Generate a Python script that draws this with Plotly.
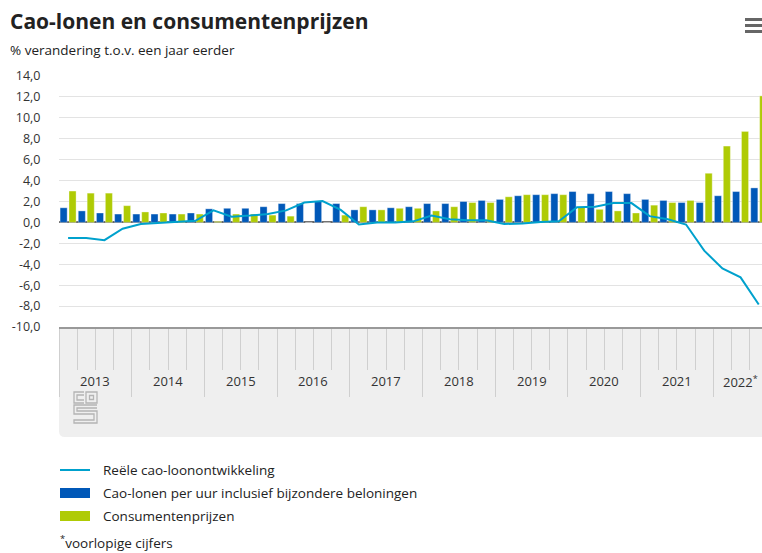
import re
import plotly.graph_objects as go

# ---- data (2013 Q1 .. 2022 Q3) ----
quarters = list(range(39))
cao_lonen = [1.4, 1.1, 0.9, 0.8, 0.8, 0.8, 0.8, 0.9,
             1.3, 1.35, 1.35, 1.5, 1.8, 1.8, 2.0, 1.8,
             1.2, 1.2, 1.4, 1.5, 1.8, 1.8, 2.0, 2.1,
             2.2, 2.55, 2.65, 2.75, 2.95, 2.75, 2.95, 2.75,
             2.2, 2.1, 1.9, 1.9, 2.55, 2.95, 3.3]
consumentenprijzen = [3.0, 2.8, 2.8, 1.6, 1.0, 0.9, 0.8, 0.8,
                      0.1, 0.8, 0.8, 0.7, 0.6, 0.0, 0.0, 0.7,
                      1.5, 1.2, 1.35, 1.35, 1.1, 1.5, 1.9, 1.9,
                      2.45, 2.65, 2.65, 2.65, 1.45, 1.25, 1.1, 0.9,
                      1.65, 1.9, 2.1, 4.7, 7.3, 8.7, 12.1]
reele_cao = [-1.5, -1.5, -1.7, -0.6, -0.15, -0.05, 0.0, 0.15,
             1.15, 0.55, 0.65, 0.8, 1.15, 1.9, 2.05, 1.2,
             -0.2, 0.0, 0.0, 0.1, 0.65, 0.3, 0.2, 0.2,
             -0.15, -0.1, 0.05, 0.1, 1.45, 1.5, 1.85, 1.85,
             0.6, 0.3, -0.2, -2.7, -4.4, -5.25, -7.85]
years = ["2013", "2014", "2015", "2016", "2017", "2018", "2019", "2020", "2021", "2022<sup>*</sup>"]
y_tick_values = [-10, -8, -6, -4, -2, 0, 2, 4, 6, 8, 10, 12, 14]
y_tick_labels = ["-10,0", "-8,0", "-6,0", "-4,0", "-2,0", "0,0", "2,0", "4,0",
                 "6,0", "8,0", "10,0", "12,0", "14,0"]
legend_names = ["Reële cao-loonontwikkeling",
                "Cao-lonen per uur inclusief bijzondere beloningen",
                "Consumentenprijzen"]

C_LINE = "#00a1cd"
C_BLUE = "#0058b8"
C_GREEN = "#afcb05"
FONT = "Open Sans"
TXT = "#222222"

W, H = 762, 553
L, T, R, B = 59, 76, 0, 226
PW, PH = W - L - R, H - T - B


def px(x):
    return (x - L) / PW


def py(y):
    return (H - B - y) / PH


fig = go.Figure()
fig.add_trace(go.Bar(x=quarters, y=cao_lonen, name=legend_names[1],
                     marker=dict(color=C_BLUE, line=dict(color="rgba(255,255,255,0.35)", width=1)),
                     offset=-0.44, width=0.39, showlegend=False, hoverinfo="skip"))
fig.add_trace(go.Bar(x=quarters, y=consumentenprijzen, name=legend_names[2],
                     marker=dict(color=C_GREEN, line=dict(color="rgba(255,255,255,0.35)", width=1)),
                     offset=0.05, width=0.39, showlegend=False, hoverinfo="skip"))
fig.add_trace(go.Scatter(x=quarters, y=reele_cao, name=legend_names[0], mode="lines",
                         line=dict(color=C_LINE, width=2), showlegend=False, hoverinfo="skip"))

x_max = -0.5 + PW / 18.175

shapes = []
# grey category band under the axis
shapes.append(dict(type="path", xref="paper", yref="paper", layer="below",
                   path=f"M {px(59)},{py(327)} L {px(762)},{py(327)} L {px(762)},{py(437)} "
                        f"L {px(65)},{py(437)} Q {px(59)},{py(437)} {px(59)},{py(431)} Z",
                   fillcolor="#efefef", line=dict(width=0)))
# hamburger menu icon
for yy in (19.5, 25.5, 31.5):
    shapes.append(dict(type="line", xref="paper", yref="paper",
                       x0=px(745), x1=px(762), y0=py(yy), y1=py(yy),
                       line=dict(color="#666666", width=3)))
# cbs logo (decoration)
logo_paths = [
    "M84,392 H74 V403 H84", "M84,395 H77 V400 H84",
    "M86,392 H97 V403 H86 Z", "M89.5,395.5 H93.5 V399.5 H89.5 Z",
    "M97,405 H74 V414 H94 V420 H74 V423 H97 V411 H77 V408 H97",
]


def conv(p):
    toks = re.findall(r"[MHVLZ]|-?\d+\.?\d*", p)
    out, cx, cy, i = [], 0, 0, 0
    while i < len(toks):
        t = toks[i]
        if t in ("M", "L"):
            cx, cy = float(toks[i + 1]), float(toks[i + 2])
            out.append(f"{t} {px(cx)},{py(cy)}")
            i += 3
        elif t == "H":
            cx = float(toks[i + 1])
            out.append(f"L {px(cx)},{py(cy)}")
            i += 2
        elif t == "V":
            cy = float(toks[i + 1])
            out.append(f"L {px(cx)},{py(cy)}")
            i += 2
        else:
            out.append("Z")
            i += 1
    return " ".join(out)


for p in logo_paths:
    shapes.append(dict(type="path", xref="paper", yref="paper", path=conv(p),
                       line=dict(color="#b4b4b4", width=1.3)))

# legend symbols
shapes.append(dict(type="line", xref="paper", yref="paper", x0=px(60), x1=px(90),
                   y0=py(470), y1=py(470), line=dict(color=C_LINE, width=2)))
shapes.append(dict(type="rect", xref="paper", yref="paper", x0=px(60), x1=px(90),
                   y0=py(488), y1=py(498), fillcolor=C_BLUE, line=dict(width=0)))
shapes.append(dict(type="rect", xref="paper", yref="paper", x0=px(60), x1=px(90),
                   y0=py(511), y1=py(521), fillcolor=C_GREEN, line=dict(width=0)))

annotations = []
annotations.append(dict(text="<b>Cao-lonen en consumentenprijzen</b>", xref="paper", yref="paper",
                        x=px(8), y=py(21), xanchor="left", yanchor="middle", showarrow=False,
                        font=dict(family=FONT, size=21, color=TXT)))
annotations.append(dict(text="% verandering t.o.v. een jaar eerder", xref="paper", yref="paper",
                        x=px(8), y=py(50), xanchor="left", yanchor="middle", showarrow=False,
                        font=dict(family=FONT, size=13.5, color=TXT)))
for k, lab in enumerate(years):
    annotations.append(dict(text=lab, xref="x", yref="paper", x=4 * k + 1.5, y=py(381),
                            xanchor="center", yanchor="middle", showarrow=False,
                            xshift=(-9 if k == len(years) - 1 else 0),
                            font=dict(family=FONT, size=13, color="#333333")))
for k, (name, yy) in enumerate(zip(legend_names, (470, 493, 516))):
    annotations.append(dict(text=name, xref="paper", yref="paper", x=px(101), y=py(yy),
                            xanchor="left", yanchor="middle", showarrow=False,
                            font=dict(family=FONT, size=13.5, color=TXT)))
annotations.append(dict(text="<sup>*</sup>voorlopige cijfers", xref="paper", yref="paper",
                        x=px(58), y=py(542), xanchor="left", yanchor="middle", showarrow=False,
                        font=dict(family=FONT, size=13.5, color=TXT)))

fig.update_layout(
    width=W, height=H, margin=dict(l=L, r=R, t=T, b=B, pad=0),
    paper_bgcolor="white", plot_bgcolor="white",
    barmode="overlay", showlegend=False,
    font=dict(family=FONT, size=13, color="#333333"),
    shapes=shapes, annotations=annotations,
    xaxis=dict(range=[-0.5, x_max], showgrid=False, zeroline=False,
               showline=True, linecolor="#999999", linewidth=2,
               tickmode="array", tickvals=[4 * k - 0.5 for k in range(10)],
               showticklabels=False,
               ticks="outside", ticklen=68, tickcolor="#cfcfcf", tickwidth=1,
               minor=dict(tickmode="linear", tick0=-0.5, dtick=1, ticks="outside",
                          ticklen=41, tickcolor="#cfcfcf", tickwidth=1, showgrid=False),
               fixedrange=True),
    yaxis=dict(range=[-10, 14], tickmode="array", tickvals=y_tick_values, ticktext=y_tick_labels,
               showgrid=True, gridcolor="#e3e3e3", gridwidth=1,
               zeroline=True, zerolinecolor="#6b6b6b", zerolinewidth=2,
               ticks="outside", ticklen=15, tickcolor="rgba(0,0,0,0)",
               tickfont=dict(family=FONT, size=12.5, color="#333333"), fixedrange=True),
)

fig.write_html("out.html", config={"displayModeBar": False},
               post_script="document.body.style.margin='0';"
                           "document.documentElement.style.overflow='hidden';")
